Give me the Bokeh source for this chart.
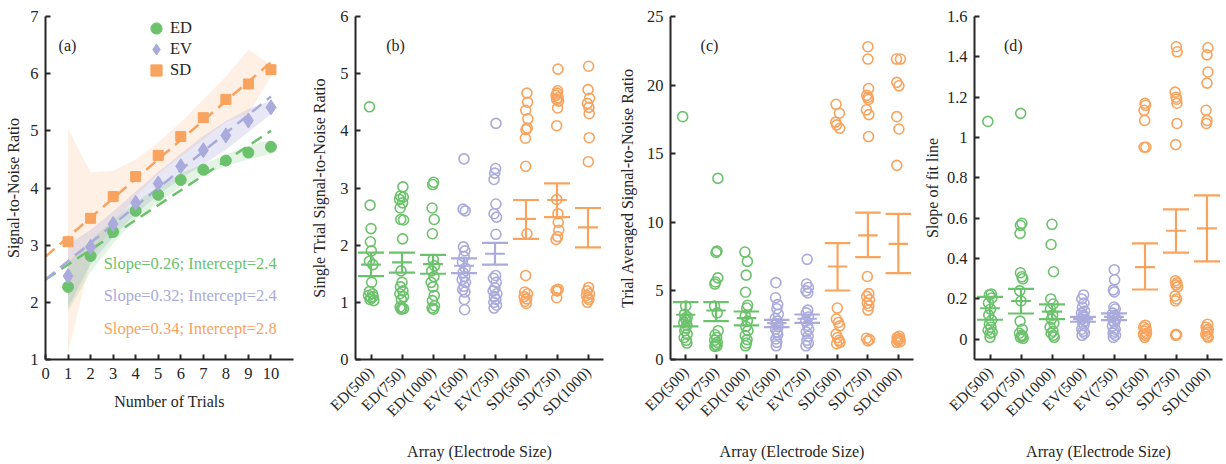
import math
from bokeh.plotting import figure
from bokeh.layouts import row
from bokeh.models import Range1d, FixedTicker, Legend, LegendItem, Label
from bokeh.embed import file_html
from bokeh.resources import INLINE

FONT = "Liberation Serif"
INK = "#262626"
GREEN = "#6cc26c"
LAV = "#aaaadc"
ORANGE = "#f8a35e"

# ---------------- panel (a) data ----------------
trials = [1, 2, 3, 4, 5, 6, 7, 8, 9, 10]
ed_snr = [2.27, 2.81, 3.23, 3.60, 3.88, 4.14, 4.32, 4.48, 4.62, 4.72]
ev_snr = [2.46, 2.97, 3.37, 3.74, 4.08, 4.38, 4.66, 4.92, 5.18, 5.41]
sd_snr = [3.06, 3.47, 3.85, 4.20, 4.57, 4.90, 5.23, 5.55, 5.82, 6.07]
ed_ci = [0.42, 0.28, 0.20, 0.15, 0.14, 0.12, 0.10, 0.10, 0.12, 0.12]
ev_ci = [0.55, 0.30, 0.22, 0.20, 0.20, 0.22, 0.25, 0.25, 0.20, 0.12]
sd_upper = [5.04, 4.27, 4.30, 4.50, 4.80, 5.15, 5.55, 5.95, 6.42, 6.15]
sd_lower = [1.12, 2.75, 3.35, 3.85, 4.25, 4.55, 4.85, 5.15, 5.30, 5.95]
series_names = ["ED", "EV", "SD"]
fit_slope = [0.26, 0.32, 0.34]
fit_intercept = [2.4, 2.4, 2.8]

# ---------------- panels (b)-(d) data ----------------
arrays = ["ED(500)", "ED(750)", "ED(1000)", "EV(500)", "EV(750)", "SD(500)", "SD(750)", "SD(1000)"]
array_family = ["ED", "ED", "ED", "EV", "EV", "SD", "SD", "SD"]

b_snr = [
    [4.42, 2.70, 2.29, 2.06, 1.90, 1.72, 1.66, 1.35, 1.19, 1.15, 1.12, 1.10, 1.08, 1.05, 1.03],
    [3.02, 2.86, 2.84, 2.80, 2.74, 2.65, 2.45, 2.44, 2.11, 1.55, 1.35, 1.27, 1.20, 1.15, 1.10, 1.05, 0.92, 0.90, 0.89, 0.88],
    [3.10, 3.06, 2.65, 2.45, 2.20, 1.75, 1.64, 1.55, 1.45, 1.35, 1.27, 1.12, 1.03, 0.94, 0.90, 0.88],
    [3.51, 2.63, 2.60, 1.97, 1.90, 1.80, 1.70, 1.60, 1.52, 1.45, 1.40, 1.35, 1.28, 1.22, 1.18, 1.05, 0.87],
    [4.13, 3.34, 3.26, 3.15, 2.72, 2.55, 2.49, 2.19, 1.47, 1.42, 1.35, 1.25, 1.20, 1.15, 1.10, 1.05, 1.00, 0.95, 0.90],
    [4.66, 4.50, 4.36, 4.21, 4.05, 4.02, 3.87, 3.38, 2.20, 1.47, 1.18, 1.15, 1.10, 1.06, 1.02, 0.98],
    [5.08, 4.70, 4.66, 4.62, 4.58, 4.55, 4.52, 4.40, 4.09, 2.80, 2.55, 2.40, 2.26, 2.15, 2.10, 1.23, 1.21, 1.20, 1.08],
    [5.13, 4.72, 4.57, 4.48, 4.41, 4.30, 3.88, 3.46, 1.26, 1.20, 1.15, 1.12, 1.08, 1.05, 1.00],
]
b_jitter = [
    [-0.05, -0.03, 0.0, -0.02, 0.01, -0.05, 0.06, 0.02, -0.05, 0.05, -0.08, 0.07, 0.0, -0.03, 0.09],
    [0.03, -0.05, 0.04, -0.08, 0.02, -0.06, -0.04, 0.05, 0.02, -0.03, 0.0, -0.05, 0.03, -0.07, 0.05, -0.02, -0.06, 0.0, 0.05, -0.03],
    [0.02, -0.01, -0.03, 0.04, -0.02, 0.01, 0.05, -0.04, 0.03, -0.06, 0.0, 0.04, -0.02, 0.05, -0.03, 0.02],
    [0.0, -0.03, 0.04, -0.02, 0.03, 0.0, -0.05, 0.04, -0.03, 0.02, -0.06, 0.05, 0.0, -0.04, 0.03, 0.01, 0.02],
    [0.03, 0.02, -0.01, -0.03, 0.03, -0.03, 0.05, 0.03, 0.02, -0.05, 0.04, 0.0, -0.06, 0.06, -0.02, 0.03, -0.04, 0.05, -0.03],
    [0.03, 0.05, -0.01, 0.06, 0.04, 0.0, -0.02, -0.01, 0.03, -0.01, -0.04, 0.05, -0.06, 0.02, -0.03, 0.01],
    [0.03, 0.02, 0.0, -0.03, 0.04, -0.01, 0.05, 0.02, -0.01, -0.01, 0.03, 0.04, 0.06, 0.02, -0.03, 0.04, -0.03, 0.01, -0.01],
    [0.02, 0.0, 0.05, -0.02, 0.03, 0.04, 0.04, 0.01, 0.02, -0.03, 0.05, -0.05, 0.0, 0.03, -0.02],
]
b_mean = [1.66, 1.70, 1.67, 1.64, 1.85, 2.46, 2.79, 2.31]
b_lo = [1.46, 1.52, 1.50, 1.51, 1.66, 2.11, 2.49, 1.96]
b_hi = [1.87, 1.87, 1.83, 1.77, 2.04, 2.79, 3.08, 2.65]

c_snr = [
    [17.7, 3.9, 3.3, 3.1, 3.0, 2.85, 2.7, 2.5, 2.3, 2.1, 1.85, 1.6, 1.4, 1.2],
    [13.2, 7.9, 7.8, 5.95, 5.65, 5.5, 3.9, 3.4, 2.1, 1.8, 1.6, 1.4, 1.25, 1.1, 1.0, 0.95],
    [7.83, 7.15, 6.15, 4.9, 3.95, 3.75, 3.2, 2.8, 2.4, 2.1, 1.75, 1.45, 1.2, 1.0],
    [5.6, 4.5, 4.0, 3.7, 3.3, 3.0, 2.8, 2.6, 2.4, 2.2, 2.0, 1.8, 1.5, 1.25, 1.0],
    [7.3, 5.5, 5.25, 5.0, 4.85, 3.6, 3.4, 3.1, 2.8, 2.5, 2.2, 2.0, 1.7, 1.4, 1.2, 1.0],
    [18.6, 17.95, 17.3, 17.1, 16.85, 3.75, 2.95, 2.7, 2.45, 1.85, 1.6, 1.4, 1.25, 1.15],
    [22.8, 21.9, 19.75, 19.25, 19.1, 18.95, 18.2, 17.85, 16.25, 6.05, 4.8, 4.6, 4.35, 4.1, 3.9, 3.6, 1.55, 1.45, 1.35],
    [21.9, 21.9, 20.2, 19.95, 17.7, 16.8, 14.15, 1.7, 1.6, 1.5, 1.45, 1.38, 1.3, 1.25],
]
c_jitter = [
    [-0.10, 0.0, -0.04, 0.05, -0.02, 0.03, -0.06, 0.04, 0.0, -0.03, 0.05, -0.05, 0.02, 0.04],
    [0.06, 0.03, 0.0, 0.06, -0.02, -0.04, -0.05, 0.04, 0.07, -0.03, 0.02, -0.05, 0.04, -0.02, 0.03, -0.04],
    [-0.05, 0.03, -0.01, -0.03, 0.04, 0.01, -0.04, 0.03, -0.02, 0.05, -0.04, 0.02, 0.0, -0.03],
    [-0.03, -0.04, 0.03, 0.0, 0.05, -0.05, 0.02, -0.02, 0.04, -0.04, 0.01, 0.03, -0.03, 0.0, -0.02],
    [0.0, -0.02, 0.04, -0.04, 0.02, 0.02, -0.03, 0.04, -0.05, 0.01, 0.05, -0.03, 0.03, -0.01, 0.04, -0.04],
    [-0.05, 0.06, -0.06, -0.03, 0.07, -0.01, -0.04, 0.03, 0.07, -0.05, 0.0, 0.05, 0.08, -0.03],
    [0.0, 0.0, 0.02, -0.04, 0.0, 0.02, -0.05, 0.03, 0.02, -0.02, 0.03, -0.04, 0.05, -0.02, 0.03, 0.0, -0.05, 0.05, 0.0],
    [-0.06, 0.07, -0.05, 0.02, -0.05, 0.02, -0.05, 0.03, -0.04, 0.05, -0.02, 0.0, 0.06, -0.05],
]
c_mean = [3.26, 3.57, 3.01, 2.65, 2.97, 6.78, 9.04, 8.43]
c_lo = [2.41, 2.79, 2.48, 2.36, 2.67, 5.03, 7.46, 6.29]
c_hi = [4.18, 4.18, 3.50, 2.89, 3.28, 8.48, 10.71, 10.62]

d_slope = [
    [1.08, 0.225, 0.22, 0.205, 0.18, 0.15, 0.12, 0.095, 0.075, 0.06, 0.045, 0.035, 0.03, 0.01],
    [1.12, 0.575, 0.565, 0.525, 0.33, 0.31, 0.30, 0.24, 0.19, 0.09, 0.05, 0.03, 0.02, 0.015, 0.01, 0.005],
    [0.57, 0.47, 0.335, 0.2, 0.175, 0.15, 0.12, 0.1, 0.08, 0.06, 0.04, 0.03, 0.02, 0.01],
    [0.22, 0.2, 0.18, 0.16, 0.14, 0.13, 0.12, 0.11, 0.1, 0.09, 0.08, 0.07, 0.05, 0.04, 0.03, 0.02],
    [0.345, 0.295, 0.245, 0.235, 0.16, 0.15, 0.13, 0.12, 0.11, 0.1, 0.09, 0.08, 0.065, 0.05, 0.04, 0.03, 0.02, 0.01],
    [1.17, 1.16, 1.135, 1.085, 0.952, 0.952, 0.07, 0.06, 0.05, 0.04, 0.03, 0.025, 0.02, 0.01],
    [1.45, 1.425, 1.225, 1.2, 1.19, 1.17, 1.07, 0.965, 0.29, 0.28, 0.27, 0.26, 0.215, 0.2, 0.19, 0.025, 0.022, 0.02],
    [1.445, 1.41, 1.325, 1.27, 1.135, 1.085, 1.07, 0.075, 0.06, 0.05, 0.045, 0.035, 0.025, 0.015, 0.01],
]
d_jitter = [
    [-0.07, 0.04, -0.02, 0.06, -0.05, 0.02, -0.04, 0.05, -0.02, 0.03, -0.06, 0.07, 0.0, 0.0],
    [-0.01, 0.03, -0.02, -0.03, -0.02, 0.03, 0.06, -0.04, 0.0, -0.03, 0.04, -0.05, 0.02, 0.05, -0.02, 0.07],
    [0.0, -0.03, 0.05, -0.04, 0.04, -0.05, 0.02, -0.02, 0.06, -0.06, 0.03, -0.03, 0.05, 0.07],
    [0.02, -0.04, 0.03, -0.02, 0.05, -0.05, 0.01, 0.04, -0.03, 0.06, -0.01, 0.03, -0.04, 0.01, 0.05, -0.03],
    [0.01, 0.02, -0.02, 0.01, 0.0, 0.04, -0.04, 0.03, -0.05, 0.06, -0.02, 0.02, -0.05, 0.04, 0.0, -0.03, 0.05, -0.02],
    [0.0, 0.02, -0.03, -0.01, -0.03, 0.03, 0.01, -0.04, 0.04, -0.02, 0.05, -0.05, 0.02, -0.01],
    [0.01, 0.04, -0.03, 0.0, 0.02, 0.03, 0.03, -0.01, -0.02, 0.03, 0.0, 0.05, -0.03, 0.02, -0.02, 0.0, 0.02, -0.01],
    [0.03, 0.0, 0.03, 0.0, -0.03, 0.0, -0.02, 0.02, -0.03, 0.04, -0.01, 0.03, -0.04, 0.01, 0.04],
]
d_mean = [0.154, 0.19, 0.137, 0.10, 0.111, 0.358, 0.538, 0.55]
d_lo = [0.097, 0.128, 0.10, 0.087, 0.095, 0.247, 0.43, 0.386]
d_hi = [0.21, 0.25, 0.173, 0.111, 0.129, 0.476, 0.644, 0.713]

family_color = {"ED": GREEN, "EV": LAV, "SD": ORANGE}


def style_axes(p, ystand):
    p.outline_line_color = None
    p.xgrid.visible = False
    p.ygrid.visible = False
    p.background_fill_color = "white"
    p.border_fill_color = "white"
    for ax in (p.xaxis[0], p.yaxis[0]):
        ax.axis_line_width = 2
        ax.axis_line_color = INK
        ax.major_tick_line_color = INK
        ax.major_tick_line_width = 2
        ax.major_tick_in = 5
        ax.major_tick_out = 0
        ax.minor_tick_line_color = None
        ax.major_label_text_font = FONT
        ax.major_label_text_font_size = "16.5px"
        ax.major_label_text_color = INK
        ax.axis_label_text_font = FONT
        ax.axis_label_text_font_size = "16px"
        ax.axis_label_text_font_style = "normal"
        ax.axis_label_text_color = INK
    p.yaxis[0].axis_label_standoff = ystand
    p.yaxis[0].major_label_standoff = 7


def tag(p, text, x, y):
    p.add_layout(Label(x=x, y=y, text=text, text_font=FONT, text_font_size="16px",
                       text_color=INK, text_baseline="middle", text_align="left"))


# ---------------- panel (a) ----------------
pa = figure(width=305, height=464, output_backend="svg", toolbar_location=None,
            x_range=Range1d(0, 11), y_range=Range1d(1, 7),
            min_border_left=45, min_border_right=12, min_border_top=16, min_border_bottom=99)
style_axes(pa, 5)
pa.xaxis.ticker = FixedTicker(ticks=[0, 1, 2, 3, 4, 5, 6, 7, 8, 9, 10])
pa.yaxis.ticker = FixedTicker(ticks=[1, 2, 3, 4, 5, 6, 7])
pa.xaxis.axis_label = "Number of Trials"
pa.yaxis.axis_label = "Signal-to-Noise Ratio"
pa.xaxis.major_label_standoff = 8
pa.xaxis.axis_label_standoff = 11

pa.varea(x=trials, y1=sd_lower, y2=sd_upper, fill_color=ORANGE, fill_alpha=0.16)
pa.varea(x=trials, y1=[m - c for m, c in zip(ev_snr, ev_ci)], y2=[m + c for m, c in zip(ev_snr, ev_ci)],
         fill_color=LAV, fill_alpha=0.28)
pa.varea(x=trials, y1=[m - c for m, c in zip(ed_snr, ed_ci)], y2=[m + c for m, c in zip(ed_snr, ed_ci)],
         fill_color=GREEN, fill_alpha=0.18)

fam_cols = [GREEN, LAV, ORANGE]
for s, b, col in zip(fit_slope, fit_intercept, fam_cols):
    pa.line(x=[0, 10], y=[b, b + 10 * s], line_color=col, line_width=2.5, line_dash="12 7")

r_ed = pa.scatter(x=trials, y=ed_snr, marker="circle", size=11, fill_color=GREEN, line_color=GREEN)
r_ev = pa.scatter(x=trials, y=ev_snr, marker="diamond", size=15, fill_color=LAV, line_color=LAV)
r_sd = pa.scatter(x=trials, y=sd_snr, marker="square", size=10, fill_color=ORANGE, line_color=ORANGE)

# one legend box per entry so the rows can sit closer than the glyph boxes
legend_centers = [34, 55, 76]
for name, r, yc in zip(series_names, [r_ed, r_ev, r_sd], legend_centers):
    lg = Legend(items=[LegendItem(label=name, renderers=[r])],
                location=(97, 351 - yc), padding=0, margin=0, spacing=0,
                glyph_width=28, glyph_height=28, label_standoff=0, label_height=28,
                label_text_font=FONT, label_text_font_size="16.5px", label_text_color=INK,
                label_text_baseline="middle",
                border_line_alpha=0, background_fill_alpha=0)
    pa.add_layout(lg)
tag(pa, "(a)", 0.58, 6.5)
for i, (s, b, col) in enumerate(zip(fit_slope, fit_intercept, fam_cols)):
    pa.add_layout(Label(x=2.58, y=2.685 - 0.567 * i, text=f"Slope={s:.2f}; Intercept={b:.1f}",
                        text_font=FONT, text_font_size="16.5px", text_color=col,
                        text_baseline="middle", text_align="left"))


# ---------------- panels (b)-(d) ----------------
def dot_panel(values, jitter, mean, lo, hi, yr, yticks, ylabel, label, tagxy, bl, br, width, bb, ystand):
    p = figure(width=width, height=464, output_backend="svg", toolbar_location=None,
               x_range=Range1d(0.5, 8.5), y_range=Range1d(*yr),
               min_border_left=bl, min_border_right=br, min_border_top=16, min_border_bottom=bb)
    style_axes(p, ystand)
    p.xaxis.ticker = FixedTicker(ticks=list(range(1, 9)))
    p.xaxis.major_label_overrides = {i + 1: a for i, a in enumerate(arrays)}
    p.xaxis.major_label_orientation = math.pi / 4
    p.xaxis.major_label_text_font_size = "15.5px"
    p.xaxis.major_label_standoff = 10
    p.yaxis.ticker = FixedTicker(ticks=yticks)
    p.yaxis.major_label_overrides = {t: ("%g" % t) for t in yticks}
    p.xaxis.axis_label = "Array (Electrode Size)"
    p.xaxis.axis_label_standoff = 15
    p.yaxis.axis_label = ylabel
    xs, ys, cs = [], [], []
    for k, (vals, jit) in enumerate(zip(values, jitter)):
        for v, j in zip(vals, jit):
            xs.append(k + 1 + j)
            ys.append(v)
            cs.append(family_color[array_family[k]])
    p.scatter(x=xs, y=ys, marker="circle", size=10, fill_color=None, line_color=cs, line_width=1.6)
    cx = [k + 1 for k in range(len(arrays))]
    ec = [family_color[f] for f in array_family]
    p.segment(x0=cx, y0=lo, x1=cx, y1=hi, line_color=ec, line_width=2.2)
    p.segment(x0=[x - 0.42 for x in cx], y0=lo, x1=[x + 0.42 for x in cx], y1=lo, line_color=ec, line_width=2.2)
    p.segment(x0=[x - 0.42 for x in cx], y0=hi, x1=[x + 0.42 for x in cx], y1=hi, line_color=ec, line_width=2.2)
    p.segment(x0=[x - 0.32 for x in cx], y0=mean, x1=[x + 0.32 for x in cx], y1=mean, line_color=ec, line_width=2.2)
    tag(p, label, *tagxy)
    return p


pb = dot_panel(b_snr, b_jitter, b_mean, b_lo, b_hi, (0, 6), [0, 1, 2, 3, 4, 5, 6],
               "Single Trial Signal-to-Noise Ratio", "(b)", (1.49, 5.49), 50, 12, 310, 105, 9)
pc = dot_panel(c_snr, c_jitter, c_mean, c_lo, c_hi, (0, 25), [0, 5, 10, 15, 20, 25],
               "Trial Averaged Signal-to-Noise Ratio", "(c)", (1.49, 22.9), 50, 7, 305, 105, 8)
pd = dot_panel(d_slope, d_jitter, d_mean, d_lo, d_hi, (-0.1, 1.6), [0, 0.2, 0.4, 0.6, 0.8, 1, 1.2, 1.4, 1.6],
               "Slope of fit line", "(d)", (1.45, 1.458), 53, 4, 306, 101, 3)

layout = row(pa, pb, pc, pd, spacing=0)
open("out.html", "w").write(file_html(layout, INLINE))
